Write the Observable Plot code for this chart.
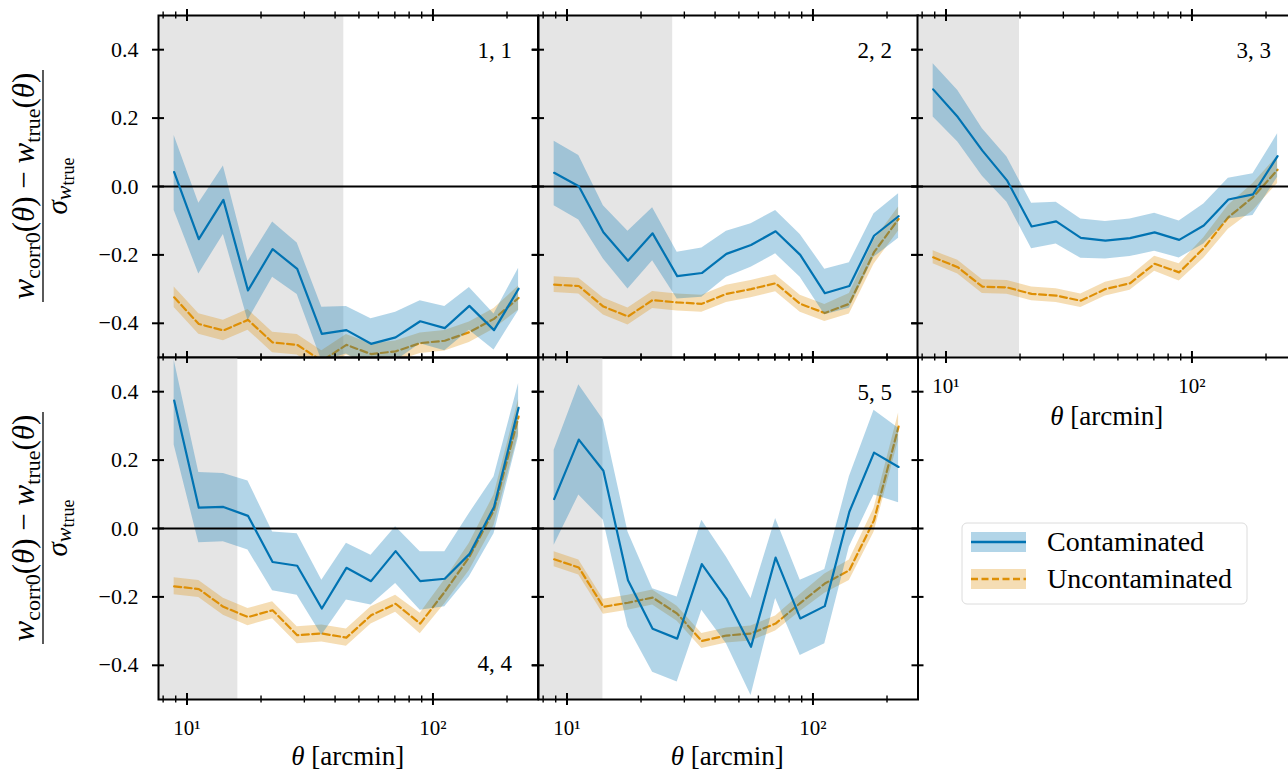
<!DOCTYPE html>
<html><head><meta charset="utf-8">
<script src="https://cdn.jsdelivr.net/npm/d3@7"></script>
<script src="https://cdn.jsdelivr.net/npm/@observablehq/plot@0.6"></script>
<style>
html,body{margin:0;padding:0;background:#fff;overflow:hidden;}
#chart{position:relative;width:1288px;height:776px;overflow:hidden;font-family:"Liberation Serif",serif;}
#chart svg{position:absolute;}
</style></head><body><div id="chart"></div>
<script>
// ---- data ----
const theta = [8.87, 11.17, 14.06, 17.70, 22.29, 28.06, 35.33, 44.48, 56.00, 70.50, 88.75, 111.7, 140.6, 177.1, 222.9];
const binLabels = ["1, 1", "2, 2", "3, 3", "4, 4", "5, 5"];
const shadeEdge = [43.4, 26.9, 19.9, 16.1, 14.0];
const xMajor = [10, 100];
const xMinor = [8, 9, 20, 30, 40, 50, 60, 70, 80, 90, 200];
const yTicks = [-0.4, -0.2, 0, 0.2, 0.4];
const seriesNames = ["Contaminated", "Uncontaminated"];

const c1   = [0.042, -0.154, -0.039, -0.304, -0.183, -0.241, -0.431, -0.420, -0.460, -0.441, -0.394, -0.414, -0.349, -0.420, -0.299];
const c1Hi = [0.149, -0.049, 0.060, -0.219, -0.104, -0.165, -0.353, -0.351, -0.387, -0.368, -0.334, -0.351, -0.295, -0.373, -0.239];
const c1Lo = [-0.070, -0.256, -0.140, -0.392, -0.265, -0.316, -0.510, -0.490, -0.530, -0.510, -0.460, -0.480, -0.420, -0.478, -0.363];
const u1   = [-0.324, -0.402, -0.421, -0.390, -0.456, -0.463, -0.510, -0.463, -0.490, -0.482, -0.458, -0.451, -0.426, -0.387, -0.326];
const u1Err = [0.03, 0.03, 0.03, 0.03, 0.03, 0.03, 0.03, 0.03, 0.03, 0.03, 0.03, 0.03, 0.03, 0.03, 0.035];

const c2   = [0.040, 0.001, -0.134, -0.217, -0.137, -0.262, -0.253, -0.197, -0.171, -0.131, -0.200, -0.312, -0.291, -0.144, -0.087];
const c2Hi = [0.132, 0.091, -0.056, -0.131, -0.062, -0.192, -0.180, -0.131, -0.109, -0.070, -0.140, -0.242, -0.223, -0.080, -0.021];
const c2Lo = [-0.056, -0.098, -0.212, -0.300, -0.217, -0.329, -0.324, -0.265, -0.236, -0.197, -0.265, -0.375, -0.356, -0.207, -0.151];
const u2   = [-0.287, -0.291, -0.351, -0.380, -0.332, -0.339, -0.343, -0.314, -0.300, -0.283, -0.343, -0.370, -0.343, -0.192, -0.095];
const u2Err = [0.023, 0.023, 0.025, 0.025, 0.025, 0.025, 0.025, 0.025, 0.025, 0.025, 0.025, 0.025, 0.03, 0.035, 0.035];

const c3   = [0.284, 0.203, 0.105, 0.018, -0.117, -0.102, -0.150, -0.158, -0.151, -0.134, -0.156, -0.114, -0.038, -0.023, 0.089];
const c3Hi = [0.359, 0.281, 0.169, 0.086, -0.049, -0.046, -0.095, -0.102, -0.095, -0.078, -0.101, -0.051, 0.024, 0.037, 0.154];
const c3Lo = [0.203, 0.130, 0.030, -0.046, -0.182, -0.168, -0.210, -0.212, -0.205, -0.189, -0.209, -0.168, -0.095, -0.085, 0.027];
const u3   = [-0.207, -0.236, -0.293, -0.295, -0.314, -0.319, -0.334, -0.300, -0.283, -0.226, -0.251, -0.180, -0.090, -0.031, 0.049];
const u3Err = [0.019, 0.02, 0.02, 0.02, 0.02, 0.02, 0.02, 0.02, 0.02, 0.022, 0.025, 0.03, 0.035, 0.04, 0.04];

const c4   = [0.374, 0.061, 0.063, 0.037, -0.098, -0.109, -0.234, -0.115, -0.154, -0.066, -0.154, -0.147, -0.075, 0.063, 0.353];
const c4Hi = [0.493, 0.164, 0.161, 0.139, -0.010, -0.015, -0.151, -0.043, -0.078, 0.005, -0.068, -0.068, 0.044, 0.151, 0.424];
const c4Lo = [0.244, -0.042, -0.039, -0.063, -0.182, -0.195, -0.312, -0.209, -0.224, -0.161, -0.239, -0.229, -0.141, -0.015, 0.268];
const u4   = [-0.169, -0.177, -0.229, -0.259, -0.239, -0.312, -0.307, -0.319, -0.254, -0.220, -0.278, -0.185, -0.083, 0.054, 0.327];
const u4Err = [0.025, 0.025, 0.025, 0.025, 0.025, 0.025, 0.025, 0.025, 0.025, 0.025, 0.03, 0.035, 0.04, 0.045, 0.05];

const c5   = [0.086, 0.260, 0.169, -0.151, -0.293, -0.322, -0.104, -0.205, -0.346, -0.085, -0.263, -0.227, 0.049, 0.222, 0.180];
const c5Hi = [0.229, 0.420, 0.317, -0.010, -0.176, -0.200, 0.024, -0.083, -0.205, 0.029, -0.151, -0.120, 0.151, 0.346, 0.293];
const c5Lo = [-0.049, 0.098, 0.024, -0.288, -0.420, -0.449, -0.239, -0.337, -0.488, -0.205, -0.371, -0.337, -0.054, 0.098, 0.075];
const u5   = [-0.090, -0.114, -0.229, -0.217, -0.202, -0.249, -0.329, -0.313, -0.307, -0.278, -0.218, -0.161, -0.122, 0.024, 0.298];
const u5Err = [0.022, 0.022, 0.022, 0.022, 0.022, 0.022, 0.022, 0.022, 0.022, 0.022, 0.025, 0.028, 0.03, 0.035, 0.04];

// ---- style / layout ----
const blue = "#0173b2", orange = "#de8f05", shade = "#e5e5e5";
const FONT = "'Liberation Serif', 'DejaVu Serif', serif";
const W = 379.5, H = 342;
const xDomain = [7.66, 267.3];
const yDomain = [-0.5, 0.5];

const panels = [
  {label: binLabels[0], cut: shadeEdge[0], c: c1, hi: c1Hi, lo: c1Lo, u: u1, ue: u1Err, left: 158,   top: 15,  yLab: true,  xLab: false, lab: "top"},
  {label: binLabels[1], cut: shadeEdge[1], c: c2, hi: c2Hi, lo: c2Lo, u: u2, ue: u2Err, left: 537.5, top: 15,  yLab: false, xLab: false, lab: "top"},
  {label: binLabels[2], cut: shadeEdge[2], c: c3, hi: c3Hi, lo: c3Lo, u: u3, ue: u3Err, left: 917,   top: 15,  yLab: false, xLab: true,  lab: "top"},
  {label: binLabels[3], cut: shadeEdge[3], c: c4, hi: c4Hi, lo: c4Lo, u: u4, ue: u4Err, left: 158,   top: 357, yLab: true,  xLab: true,  lab: "bottom"},
  {label: binLabels[4], cut: shadeEdge[4], c: c5, hi: c5Hi, lo: c5Lo, u: u5, ue: u5Err, left: 537.5, top: 357, yLab: false, xLab: true,  lab: "top"}
];

const chart = document.getElementById("chart");
const fmtY = d => (d < 0 ? "\u2212" : "") + Math.abs(d).toFixed(1);
const fmtX = d => d === 10 ? "10\u00b9" : "10\u00b2";

panels.forEach(p => {
  const rows = theta.map((t, i) => ({
    t, c: p.c[i], cl: p.lo[i], ch: p.hi[i],
    u: p.u[i], ul: p.u[i] - p.ue[i], uh: p.u[i] + p.ue[i]
  }));
  const marks = [
    Plot.rect([{a: xDomain[0], b: p.cut}], {x1: "a", x2: "b", fill: shade}),
    Plot.areaY(rows, {x: "t", y1: "ul", y2: "uh", fill: orange, fillOpacity: 0.3, clip: true}),
    Plot.line(rows, {x: "t", y: "u", stroke: orange, strokeWidth: 2.2, strokeDasharray: "7,3.5", clip: true}),
    Plot.areaY(rows, {x: "t", y1: "cl", y2: "ch", fill: blue, fillOpacity: 0.3, clip: true}),
    Plot.ruleY([0], {stroke: "black", strokeWidth: 2}),
    Plot.line(rows, {x: "t", y: "c", stroke: blue, strokeWidth: 2.2, clip: true}),
    Plot.ruleX(xMajor, {x: d => d, insetTop: H - 6, insetBottom: -6, stroke: "black", strokeWidth: 2}),
    Plot.ruleX(xMajor, {x: d => d, insetTop: -6, insetBottom: H - 6, stroke: "black", strokeWidth: 2}),
    Plot.ruleX(xMinor, {x: d => d, insetTop: H - 3.5, insetBottom: -3.5, stroke: "black", strokeWidth: 1.4}),
    Plot.ruleX(xMinor, {x: d => d, insetTop: -3.5, insetBottom: H - 3.5, stroke: "black", strokeWidth: 1.4}),
    Plot.ruleY(yTicks, {y: d => d, insetLeft: -6, insetRight: W - 6, stroke: "black", strokeWidth: 2}),
    Plot.ruleY(yTicks, {y: d => d, insetLeft: W - 6, insetRight: -6, stroke: "black", strokeWidth: 2}),
    Plot.frame({stroke: "black", strokeWidth: 2}),
    Plot.text([p.label], {
      text: d => d, frameAnchor: p.lab === "top" ? "top-right" : "bottom-right",
      dx: -26, dy: p.lab === "top" ? 35.6 : -35.4, textAnchor: "end", lineAnchor: "middle",
      fontSize: 23, fontFamily: FONT, fill: "black"
    })
  ];
  if (p.yLab) marks.push(Plot.text(yTicks, {
    y: d => d, text: fmtY, frameAnchor: "left", dx: -20, textAnchor: "end",
    lineAnchor: "middle", fontSize: 22, fontFamily: FONT, fill: "black"
  }));
  if (p.xLab) marks.push(Plot.text(xMajor, {
    x: d => d, text: fmtX, frameAnchor: "bottom", dy: 29, lineAnchor: "middle",
    fontSize: 21, fontFamily: FONT, fill: "black"
  }));
  const svg = Plot.plot({
    width: W, height: H,
    marginTop: 0, marginRight: 0, marginBottom: 0, marginLeft: 0,
    x: {type: "log", domain: xDomain, axis: null},
    y: {domain: yDomain, axis: null},
    style: {background: "none", overflow: "visible", fontFamily: FONT},
    marks
  });
  svg.style.position = "absolute";
  svg.style.left = p.left + "px";
  svg.style.top = p.top + "px";
  svg.style.maxWidth = "none";
  chart.appendChild(svg);
});

// ---- overlay: axis titles and legend ----
const ov = d3.create("svg").attr("width", 1288).attr("height", 776)
  .style("position", "absolute").style("left", "0px").style("top", "0px")
  .style("pointer-events", "none").style("font-family", FONT);

function yLabel(cy) {
  const g = ov.append("g").attr("transform", `translate(43,${cy}) rotate(-90)`);
  const num = g.append("text").attr("x", 0).attr("y", -9).attr("text-anchor", "middle")
    .attr("font-size", 31).attr("fill", "black");
  num.append("tspan").attr("font-style", "italic").text("w");
  num.append("tspan").attr("font-size", 22).attr("dy", 6).text("corr0");
  num.append("tspan").attr("dy", -6).text("(");
  num.append("tspan").attr("font-style", "italic").text("θ");
  num.append("tspan").text(") \u2212 ");
  num.append("tspan").attr("font-style", "italic").text("w");
  num.append("tspan").attr("font-size", 22).attr("dy", 6).text("true");
  num.append("tspan").attr("dy", -6).text("(");
  num.append("tspan").attr("font-style", "italic").text("θ");
  num.append("tspan").text(")");
  g.append("line").attr("x1", -116).attr("x2", 116).attr("y1", 0).attr("y2", 0)
    .attr("stroke", "black").attr("stroke-width", 1.3);
  const den = g.append("text").attr("x", 0).attr("y", 24).attr("text-anchor", "middle")
    .attr("font-size", 29).attr("fill", "black");
  den.append("tspan").attr("font-style", "italic").text("σ");
  den.append("tspan").attr("font-style", "italic").attr("font-size", 22).attr("dy", 4).text("w");
  den.append("tspan").attr("font-size", 18).attr("dy", 3).text("true");
}
yLabel(186);
yLabel(528);

function xLabel(cx, baseline) {
  const t = ov.append("text").attr("x", cx).attr("y", baseline).attr("text-anchor", "middle")
    .attr("font-size", 27).attr("fill", "black");
  t.append("tspan").attr("font-style", "italic").text("θ");
  t.append("tspan").text(" [arcmin]");
}
xLabel(917 + W / 2, 357 + 68);
xLabel(158 + W / 2, 699 + 66);
xLabel(537.5 + W / 2, 699 + 66);

// legend
const lg = ov.append("g");
lg.append("rect").attr("x", 962).attr("y", 523).attr("width", 285).attr("height", 81)
  .attr("rx", 5).attr("fill", "white").attr("fill-opacity", 0.8)
  .attr("stroke", "#dcdcdc").attr("stroke-width", 1);
const legendItems = [
  {name: seriesNames[0], color: blue, dash: null, cy: 542},
  {name: seriesNames[1], color: orange, dash: "7,3.5", cy: 579}
];
legendItems.forEach(it => {
  lg.append("rect").attr("x", 971).attr("y", it.cy - 10).attr("width", 55).attr("height", 20)
    .attr("fill", it.color).attr("fill-opacity", 0.3);
  const ln = lg.append("line").attr("x1", 971).attr("x2", 1026).attr("y1", it.cy).attr("y2", it.cy)
    .attr("stroke", it.color).attr("stroke-width", 2.5);
  if (it.dash) ln.attr("stroke-dasharray", it.dash);
  lg.append("text").attr("x", 1047).attr("y", it.cy + 9).attr("font-size", 28)
    .attr("fill", "black").text(it.name);
});

chart.appendChild(ov.node());
</script>
</body></html>
